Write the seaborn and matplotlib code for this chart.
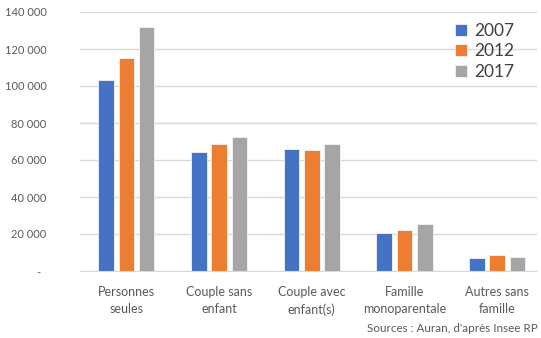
import matplotlib
matplotlib.use("Agg")
import matplotlib.pyplot as plt
import seaborn as sns
import pandas as pd

categories = ["Personnes\nseules", "Couple sans\nenfant", "Couple avec\nenfant(s)",
              "Famille\nmonoparentale", "Autres sans\nfamille"]
years = ["2007", "2012", "2017"]
values_2007 = [103200, 64500, 66100, 20400, 7200]
values_2012 = [115000, 68600, 65200, 22000, 8500]
values_2017 = [131900, 72300, 68500, 25600, 7400]
yticks = [0, 20000, 40000, 60000, 80000, 100000, 120000, 140000]
ytick_labels = ["-  ", "20 000", "40 000", "60 000", "80 000", "100 000", "120 000", "140 000"]
colors = ["#4472C4", "#ED7D31", "#A5A5A5"]

df = pd.DataFrame({
    "cat": categories * 3,
    "year": [y for y in years for _ in categories],
    "value": values_2007 + values_2012 + values_2017,
})

sns.set_style("white")
plt.rcParams["font.family"] = ["Lato", "DejaVu Sans"]

fig = plt.figure(figsize=(5.41, 3.38), dpi=100)
ax = fig.add_axes([80 / 541, 1 - 271 / 338, (537 - 80) / 541, (271 - 12) / 338])

sns.barplot(data=df, x="cat", y="value", hue="year", palette=colors,
            width=0.657, gap=0.23, ax=ax, legend=True,
            edgecolor="#f4f4f4", linewidth=0.6, saturation=1)

ax.set_ylim(0, 140000)
ax.set_xlim(-0.5, 4.43)
ax.set_yticks(yticks)
ax.set_yticklabels(ytick_labels)
ax.set_xlabel("")
ax.set_ylabel("")
ax.grid(axis="y", color="#d9d9d9", linewidth=1)
ax.set_axisbelow(True)
for s in ["top", "right", "left"]:
    ax.spines[s].set_visible(False)
ax.spines["bottom"].set_color("#d9d9d9")
ax.tick_params(axis="y", length=0, pad=24, labelsize=8, labelcolor="#595959")
ax.tick_params(axis="x", length=0, pad=11, labelsize=9, labelcolor="#595959")
for t in ax.get_xticklabels():
    t.set_linespacing(1.5)

leg = ax.legend(loc="upper left", bbox_to_anchor=((455 - 80) / 457, 1 - (23 - 12) / 259),
                frameon=False, fontsize=12.5, handlelength=0.7, handleheight=0.7,
                handletextpad=0.4, labelspacing=0.25, borderpad=0, borderaxespad=0)
for t in leg.get_texts():
    t.set_color("#404040")

fig.text(538 / 541, 1 - 329 / 338, "Sources : Auran, d'après Insee RP",
         ha="right", va="center", fontsize=8.4, color="#595959")

fig.savefig("out.png", dpi=100)
